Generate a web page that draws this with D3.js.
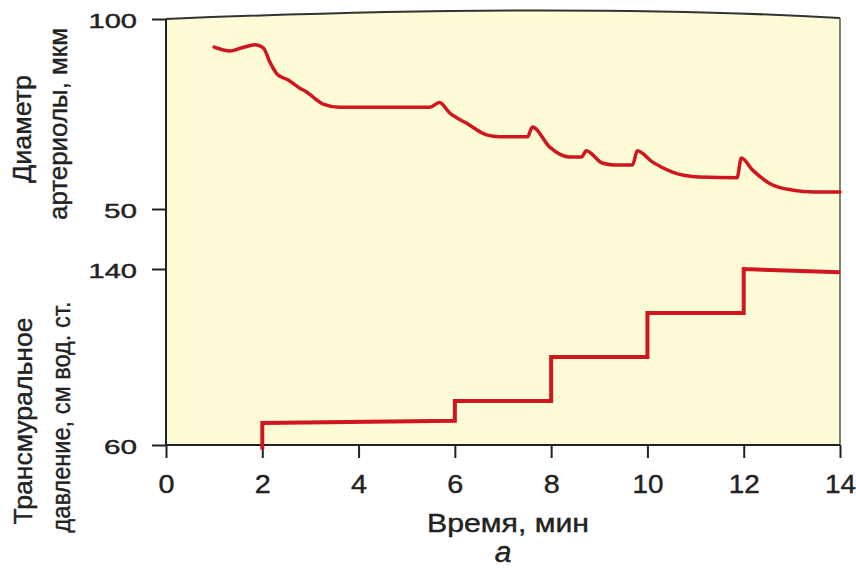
<!DOCTYPE html>
<html>
<head>
<meta charset="utf-8">
<script src="https://cdn.jsdelivr.net/npm/d3@7"></script>
<style>
  body { margin: 0; background: #fff; }
  svg { display: block; font-family: "Liberation Sans", Arial, sans-serif; }
  text { stroke: #222; stroke-width: 0.4px; }
</style>
</head>
<body>
<svg id="chart" width="856" height="571"></svg>
<script>
// Diameter of the arteriole, um (upper trace)
const diamTime = [1.0, 1.33, 1.6, 1.85, 2.02, 2.16, 2.32, 2.53, 2.78, 2.92, 3.08, 3.26, 3.6, 5.48, 5.68, 5.89,
    6.24, 6.66, 6.93, 7.51, 7.61, 7.97, 8.38, 8.63, 8.73, 9.06, 9.31, 9.69, 9.79, 10.1,
    10.52, 11.08, 11.86, 11.95, 12.18, 12.53, 13.0, 13.46, 14.0];
const diamValue = [92.6, 91.6, 92.5, 93.2, 92.4, 88.6, 85.3, 84.0, 81.8, 80.8, 79.2, 77.6, 76.8, 76.8, 78.0, 75.3,
    72.6, 69.5, 69.0, 69.0, 71.6, 66.3, 63.7, 63.7, 65.3, 62.1, 61.6, 61.6, 65.3, 62.4,
    59.7, 58.4, 58.2, 63.4, 60.3, 56.8, 55.0, 54.5, 54.5];

// Transmural pressure, cm H2O (lower stepped trace)
const pressTime = [2, 2, 6, 6, 8, 8, 10, 10, 12, 12, 14];
const pressValue = [58, 70, 71, 80, 80, 100, 100, 120, 120, 140, 138.5];

const timeTicks = [0, 2, 4, 6, 8, 10, 12, 14];
const diamTicks = [50, 100];
const pressTicks = [60, 140];

const svg = d3.select("#chart");
const red = "#d0161e";
const ink = "#222";

// Scales
const x = d3.scaleLinear().domain([0, 14]).range([166, 840]);
const yD = d3.scaleLinear().domain([50, 100]).range([209, 19]);
const yP = d3.scaleLinear().domain([60, 140]).range([445, 269]);

const yTop = yD(100), yBottom = yP(60);

// Pale yellow plot panel, top edge slightly bowed like the scan
const topEdge = `M${x(0)},${yTop} C${x(5)},${yTop - 10} ${x(10)},${yTop - 12} ${x(14)},${yTop - 1}`;

svg.append("path")
    .attr("d", `M${x(0)},${yBottom} L${topEdge.slice(1)} L${x(14)},${yBottom} Z`)
    .attr("fill", "#fdfcd7");

svg.append("path")
    .attr("d", topEdge)
    .attr("fill", "none")
    .attr("stroke", "#333")
    .attr("stroke-width", 2);

svg.append("line")
    .attr("x1", x(14)).attr("x2", x(14))
    .attr("y1", yTop - 1).attr("y2", yBottom)
    .attr("stroke", "#555")
    .attr("stroke-width", 1.5);

// Axes
function styleAxis(g) {
    g.select(".domain").remove();
    g.selectAll(".tick line").attr("stroke", ink).attr("stroke-width", 2);
    g.selectAll(".tick text")
        .attr("fill", ink)
        .attr("lengthAdjust", "spacingAndGlyphs");
}

const gD = svg.append("g")
    .attr("transform", `translate(${x(0)},0)`)
    .call(d3.axisLeft(yD).tickValues(diamTicks).tickSize(14).tickPadding(15))
    .call(styleAxis);

const gP = svg.append("g")
    .attr("transform", `translate(${x(0)},0)`)
    .call(d3.axisLeft(yP).tickValues(pressTicks).tickSize(14).tickPadding(15))
    .call(styleAxis);

[gD, gP].forEach(g => g.selectAll(".tick text")
    .attr("font-size", 20)
    .attr("dy", "0.42em")
    .attr("textLength", d => String(d).length * 15.5 + 2));

svg.append("g")
    .attr("transform", `translate(0,${yBottom})`)
    .call(d3.axisBottom(x).tickValues(timeTicks).tickSize(13).tickPadding(17))
    .call(styleAxis)
    .selectAll(".tick text")
    .attr("font-size", 25)
    .attr("textLength", d => String(d).length === 1 ? 16 : 31);

svg.append("line")
    .attr("x1", x(0)).attr("x2", x(0))
    .attr("y1", yTop).attr("y2", yBottom)
    .attr("stroke", ink).attr("stroke-width", 2);

svg.append("line")
    .attr("x1", x(0)).attr("x2", x(14))
    .attr("y1", yBottom).attr("y2", yBottom)
    .attr("stroke", ink).attr("stroke-width", 2);

// Traces
const diamLine = d3.line()
    .x((d, i) => x(diamTime[i]))
    .y(d => yD(d))
    .curve(d3.curveMonotoneX);

svg.append("path")
    .attr("d", diamLine(diamValue))
    .attr("fill", "none")
    .attr("stroke", red)
    .attr("stroke-width", 3.5)
    .attr("stroke-linecap", "round");

const pressLine = d3.line()
    .x((d, i) => x(pressTime[i]))
    .y(d => yP(d));

svg.append("path")
    .attr("d", pressLine(pressValue))
    .attr("fill", "none")
    .attr("stroke", red)
    .attr("stroke-width", 4)
    .attr("stroke-linejoin", "miter");

// Axis titles
const titles = [
    { text: "Диаметр", x: 31, y: 129, len: 108 },
    { text: "артериолы, мкм", x: 67, y: 124, len: 192 },
    { text: "Трансмуральное", x: 32, y: 421, len: 207 },
    { text: "давление, см вод. ст.", x: 70, y: 417, len: 231 }
];

svg.selectAll(".ytitle")
    .data(titles)
    .enter()
    .append("text")
    .attr("class", "ytitle")
    .attr("transform", d => `translate(${d.x},${d.y}) rotate(-90)`)
    .attr("text-anchor", "middle")
    .attr("font-size", 26)
    .attr("fill", ink)
    .attr("textLength", d => d.len)
    .attr("lengthAdjust", "spacingAndGlyphs")
    .text(d => d.text);

svg.append("text")
    .attr("x", 508)
    .attr("y", 532)
    .attr("text-anchor", "middle")
    .attr("font-size", 26)
    .attr("fill", ink)
    .attr("textLength", 162)
    .attr("lengthAdjust", "spacingAndGlyphs")
    .text("Время, мин");

svg.append("text")
    .attr("x", 503)
    .attr("y", 562)
    .attr("text-anchor", "middle")
    .attr("font-size", 30)
    .attr("font-style", "italic")
    .attr("fill", ink)
    .text("а");
</script>
</body>
</html>
